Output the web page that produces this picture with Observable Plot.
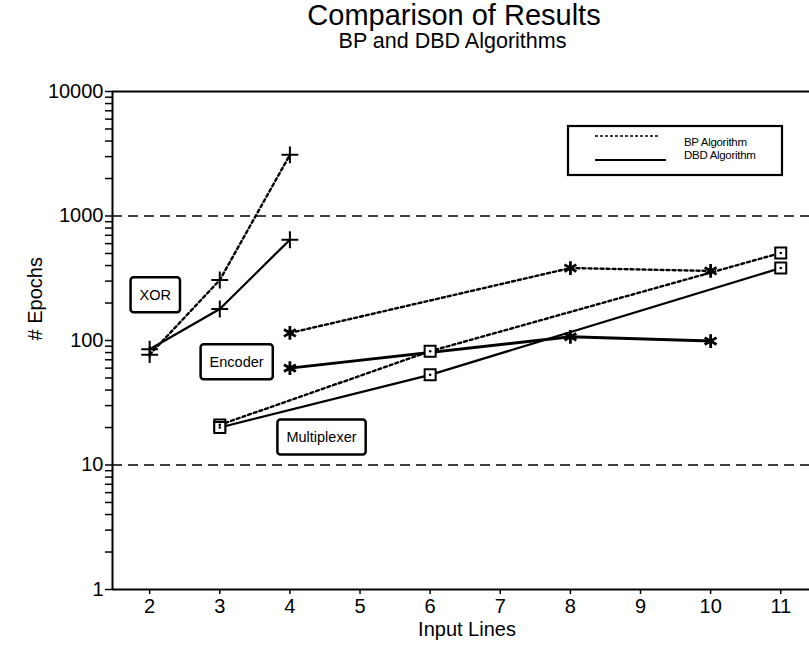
<!DOCTYPE html>
<html><head><meta charset="utf-8">
<script src="https://cdn.jsdelivr.net/npm/d3@7"></script>
<script src="https://cdn.jsdelivr.net/npm/@observablehq/plot@0.6"></script>
<style>
body{margin:0;background:#fff;font-family:"Liberation Sans",Arial,sans-serif;color:#000;}
#wrap{position:relative;width:809px;height:655px;overflow:hidden;}
#wrap svg{position:absolute;left:0;top:0;}
.ttl{position:absolute;left:0;text-align:center;white-space:nowrap;line-height:1;z-index:2;}
#title{top:1px;width:908px;font-size:29px;}
#subtitle{top:31px;width:905px;font-size:21.5px;}
</style>
</head><body>
<div id="wrap">
  <div id="title" class="ttl">Comparison of Results</div>
  <div id="subtitle" class="ttl">BP and DBD Algorithms</div>
</div>
<script>
// ---- data ----
const xorX = [2, 3, 4];
const xorBP = [77, 306, 3100];
const xorDBD = [85, 179, 645];
const encX = [4, 8, 10];
const encBP = [115, 382, 362];
const encDBD = [60, 107, 99];
const muxX = [3, 6, 11];
const muxBP = [21, 82, 505];
const muxDBD = [20, 53, 382];
const xTicks = [2, 3, 4, 5, 6, 7, 8, 9, 10, 11];
const yTicks = [1, 10, 100, 1000, 10000];
const gridValues = [10, 1000];
const taskLabels = ["XOR", "Encoder", "Multiplexer"];
const taskLabelX = [2.08, 3.24, 4.45];
const taskLabelY = [232, 67, 16.7];
const legendLabels = ["BP Algorithm", "DBD Algorithm"];
const xDomain = [1.47, 11.41];
const yDomain = [1, 10000];

function rows(task, alg, xs, ys) { return xs.map((x, i) => ({task, alg, x, y: ys[i]})); }
const data = [
  ...rows("XOR", "BP", xorX, xorBP), ...rows("XOR", "DBD", xorX, xorDBD),
  ...rows("Encoder", "BP", encX, encBP), ...rows("Encoder", "DBD", encX, encDBD),
  ...rows("Multiplexer", "BP", muxX, muxBP), ...rows("Multiplexer", "DBD", muxX, muxDBD)
];
const minorTicks = [];
for (const d of [1, 10, 100, 1000]) for (let k = 2; k <= 9; k++) minorTicks.push(d * k);
const labels = taskLabels.map((t, i) => ({t, x: taskLabelX[i], y: taskLabelY[i]}));

const chart = Plot.plot({
  width: 809, height: 655,
  marginLeft: 112, marginRight: 0, marginTop: 91, marginBottom: 66,
  style: {fontFamily: "Liberation Sans, Arial, sans-serif", color: "#000", background: "#fff", overflow: "visible"},
  x: {domain: xDomain},
  y: {type: "log", domain: yDomain},
  marks: [
    Plot.ruleY(gridValues, {strokeDasharray: "10,6", strokeWidth: 1.6}),
    Plot.ruleY(yDomain, {strokeWidth: 2}),
    Plot.ruleX([xDomain[0]], {strokeWidth: 2}),
    Plot.axisY({ticks: minorTicks, tickSize: 7, tickFormat: () => "", label: null, strokeWidth: 1.5}),
    Plot.axisY({ticks: yTicks, tickSize: 7, tickPadding: 2, tickFormat: d => String(d), fontSize: 20, label: null, strokeWidth: 1.5}),
    Plot.axisX({ticks: xTicks, tickSize: 5, tickPadding: 4, fontSize: 20, label: null, strokeWidth: 1.5}),
    Plot.line(data.filter(d => d.alg === "BP"), {x: "x", y: "y", z: "task", strokeDasharray: "3,3", strokeWidth: 2.4}),
    Plot.line(data.filter(d => d.alg === "DBD" && d.task !== "Encoder"), {x: "x", y: "y", z: "task", strokeWidth: 2.2}),
    Plot.line(data.filter(d => d.alg === "DBD" && d.task === "Encoder"), {x: "x", y: "y", strokeWidth: 3}),
    Plot.dot(data.filter(d => d.task === "XOR"), {x: "x", y: "y", symbol: "plus", r: 5.5, stroke: "black", strokeWidth: 2}),
    Plot.dot(data.filter(d => d.task === "Encoder"), {x: "x", y: "y", symbol: "asterisk", r: 6.5, stroke: "black", strokeWidth: 2.8}),
    Plot.dot(data.filter(d => d.task === "Multiplexer"), {x: "x", y: "y", symbol: "square2", r: 7, stroke: "black", fill: "white", strokeWidth: 2}),
    Plot.dot(data.filter(d => d.task === "Multiplexer"), {x: "x", y: "y", r: 1.3, fill: "black"}),
    Plot.text(labels, {x: "x", y: "y", text: "t", fontSize: 14.5, className: "boxlab"}),
    Plot.text(["# Epochs"], {text: d => d, frameAnchor: "left", dx: -77, rotate: -90, fontSize: 20}),
    Plot.text(["Input Lines"], {text: d => d, frameAnchor: "bottom", dy: 46, dx: 6, fontSize: 20})
  ]
});
document.getElementById("wrap").append(chart);

// boxes around the task labels
const NS = "http://www.w3.org/2000/svg";
chart.querySelectorAll("g.boxlab text").forEach(t => {
  const b = t.getBBox();
  const r = document.createElementNS(NS, "rect");
  r.setAttribute("x", b.x - 9); r.setAttribute("y", b.y - 9.5);
  r.setAttribute("width", b.width + 18); r.setAttribute("height", b.height + 19);
  r.setAttribute("rx", 3); r.setAttribute("fill", "white");
  r.setAttribute("stroke", "black"); r.setAttribute("stroke-width", 2.5);
  if (t.getAttribute("transform")) r.setAttribute("transform", t.getAttribute("transform"));
  t.parentNode.insertBefore(r, t);
});

// legend
const svg = d3.select(chart);
const lg = svg.append("g").attr("font-family", "Liberation Sans, Arial, sans-serif").attr("text-anchor", "start");
lg.append("rect").attr("x", 568).attr("y", 126).attr("width", 214).attr("height", 49)
  .attr("fill", "white").attr("stroke", "black").attr("stroke-width", 2.2);
lg.append("line").attr("x1", 595).attr("x2", 660).attr("y1", 136).attr("y2", 136)
  .attr("stroke", "black").attr("stroke-width", 1.6).attr("stroke-dasharray", "3,2");
lg.append("line").attr("x1", 595).attr("x2", 666).attr("y1", 160).attr("y2", 160)
  .attr("stroke", "black").attr("stroke-width", 2);
legendLabels.forEach((s, i) => {
  lg.append("text").attr("x", 684).attr("y", 146 + i * 13).attr("font-size", 11.5)
    .attr("text-anchor", "start").attr("letter-spacing", -0.3).text(s);
});
</script>
</body></html>
